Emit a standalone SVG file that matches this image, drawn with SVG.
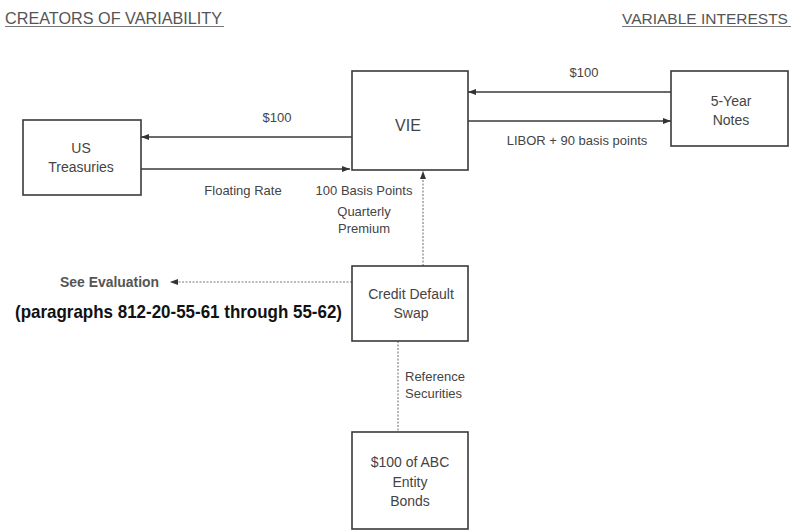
<svg xmlns="http://www.w3.org/2000/svg" width="799" height="531" viewBox="0 0 799 531">
<defs>
<marker id="ah" viewBox="0 0 8 6" refX="8" refY="3" markerWidth="8" markerHeight="6" markerUnits="userSpaceOnUse" orient="auto">
<path d="M0,0 L8,3 L0,6 Z" fill="#333"/>
</marker>
</defs>
<style>
.box{fill:#fff;stroke:#3a3a3a;stroke-width:1.6}
.t{font-family:"Liberation Sans",Arial,sans-serif;fill:#444;font-size:13px}
.bt{font-family:"Liberation Sans",Arial,sans-serif;fill:#444;font-size:14px;text-anchor:middle}
.hd{font-family:"Liberation Sans",Arial,sans-serif;fill:#555;font-size:17px}
.ln{stroke:#3a3a3a;stroke-width:1.6;fill:none}
.dl{stroke:#777;stroke-width:1.1;fill:none;stroke-dasharray:2 1.5}
</style>
<rect width="799" height="531" fill="#fff"/>
<g id="headers">
<text class="hd" x="5" y="24" textLength="217" lengthAdjust="spacingAndGlyphs">CREATORS OF VARIABILITY</text>
<line x1="5" y1="26.5" x2="224" y2="26.5" stroke="#777" stroke-width="1.2"/>
<text class="hd" x="622" y="24" style="font-size:15.5px">VARIABLE INTERESTS</text>
<line x1="622" y1="26.5" x2="791" y2="26.5" stroke="#777" stroke-width="1.2"/>
</g>
<g id="connectors">
<line class="ln" x1="352" y1="137" x2="141" y2="137" marker-end="url(#ah)"/>
<line class="ln" x1="141" y1="169" x2="350" y2="169" marker-end="url(#ah)"/>
<line class="ln" x1="671" y1="92" x2="468" y2="92" marker-end="url(#ah)"/>
<line class="ln" x1="468" y1="121" x2="671" y2="121" marker-end="url(#ah)"/>
<line class="dl" x1="423" y1="266" x2="423" y2="171" marker-end="url(#ah)"/>
<line class="dl" x1="352" y1="282" x2="170" y2="282" marker-end="url(#ah)"/>
<line class="dl" x1="398" y1="341" x2="398" y2="432"/>
<text class="t" x="277" y="122" text-anchor="middle">$100</text>
<text class="t" x="243" y="195" text-anchor="middle">Floating Rate</text>
<text class="t" x="364" y="195" text-anchor="middle">100 Basis Points</text>
<text class="t" x="364" y="216" text-anchor="middle">Quarterly</text>
<text class="t" x="364" y="233" text-anchor="middle">Premium</text>
<text class="t" x="584" y="77" text-anchor="middle">$100</text>
<text class="t" x="577" y="145" text-anchor="middle">LIBOR + 90 basis points</text>
<text class="t" x="405" y="381">Reference</text>
<text class="t" x="405" y="398">Securities</text>
<text class="t" x="60" y="287" style="font-weight:bold;fill:#555;font-size:14px" textLength="99" lengthAdjust="spacingAndGlyphs">See Evaluation</text>
<text x="15" y="318" font-family="'Liberation Sans',Arial,sans-serif" font-weight="bold" font-size="19" fill="#111" textLength="327" lengthAdjust="spacingAndGlyphs">(paragraphs 812-20-55-61 through 55-62)</text>
</g>
<g id="us-treasuries">
<rect class="box" x="23" y="120" width="118" height="75"/>
<text class="bt" x="81" y="153">US</text>
<text class="bt" x="81" y="172">Treasuries</text>
</g>
<g id="vie">
<rect class="box" x="352" y="71" width="116" height="99"/>
<text class="bt" x="408" y="131" style="font-size:16px">VIE</text>
</g>
<g id="five-year-notes">
<rect class="box" x="671" y="71" width="117" height="75"/>
<text class="bt" x="731" y="106">5-Year</text>
<text class="bt" x="731" y="125">Notes</text>
</g>
<g id="credit-default-swap">
<rect class="box" x="352" y="266" width="116" height="75"/>
<text class="bt" x="411" y="299">Credit Default</text>
<text class="bt" x="411" y="318">Swap</text>
</g>
<g id="abc-bonds">
<rect class="box" x="352" y="432" width="116" height="97"/>
<text class="bt" x="410" y="467">$100 of ABC</text>
<text class="bt" x="410" y="487">Entity</text>
<text class="bt" x="410" y="506">Bonds</text>
</g>
</svg>
